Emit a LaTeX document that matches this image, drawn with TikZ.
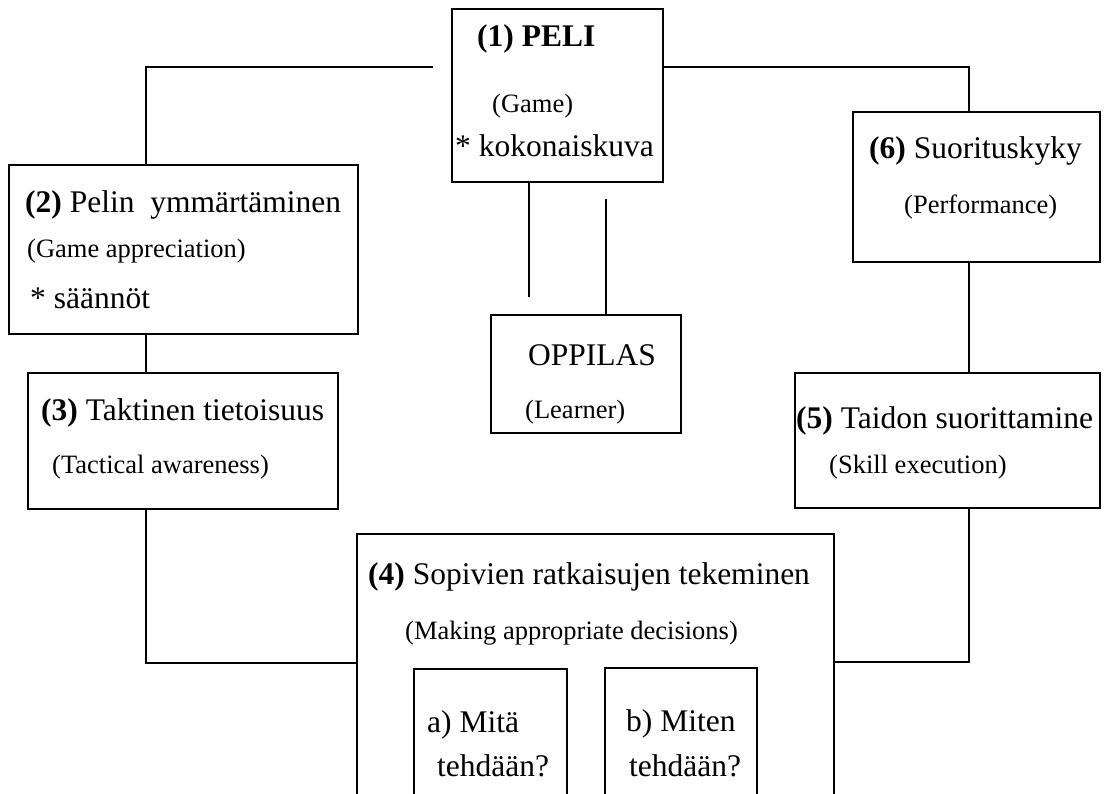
\documentclass[tikz,border=0pt]{standalone}
\usepackage{fontspec}
\setmainfont{Liberation Serif}
\begin{document}
\begin{tikzpicture}[x=1pt,y=-1pt,
  box/.style={draw, line width=1.7pt, rectangle, inner sep=0pt},
  conn/.style={line width=1.7pt},
  big/.style={anchor=base west, inner sep=0pt, font=\fontsize{31.5}{36}\selectfont},
  small/.style={anchor=base west, inner sep=0pt, font=\fontsize{26.5}{30}\selectfont}]
\clip (0,0) rectangle (1105,793);
\fill[white] (0,0) rectangle (1105,793);
% boxes
\node[box, minimum width=211pt, minimum height=173pt] (b1) at (557.5,95.5) {};
\node[box, minimum width=349pt, minimum height=169pt] (b2) at (183.5,249.5) {};
\node[box, minimum width=310pt, minimum height=136pt] (b3) at (183,441) {};
\node[box, minimum width=477pt, minimum height=286pt] (b4) at (595.5,677) {};
\node[box, minimum width=153pt, minimum height=151pt] (ba) at (490.5,744.5) {};
\node[box, minimum width=152pt, minimum height=152pt] (bb) at (681,744) {};
\node[box, minimum width=305pt, minimum height=135pt] (b5) at (947.5,440.5) {};
\node[box, minimum width=247pt, minimum height=150pt] (b6) at (976.5,187) {};
\node[box, minimum width=190pt, minimum height=118pt] (op) at (586,374) {};
% helper coordinates
\coordinate (l1) at (433,67);
\coordinate (xl) at (146,0);
\coordinate (xr) at (969,0);
\coordinate (yl) at (0,663);
\coordinate (yr) at (0,662);
\coordinate (m1e) at (529,297);
\coordinate (m2s) at (606,199);
% connectors
\draw[conn] (l1) -| (b2.north -| xl);
\draw[conn] (b2.south -| xl) -- (b3.north -| xl);
\draw[conn] (b3.south -| xl) |- (b4.west |- yl);
\draw[conn] (b1.east |- l1) -| (b6.north -| xr);
\draw[conn] (b6.south -| xr) -- (b5.north -| xr);
\draw[conn] (b5.south -| xr) |- (b4.east |- yr);
\draw[conn] (b1.south -| m1e) -- (m1e);
\draw[conn, line width=1.3pt] (m2s) -- (op.north -| m2s);
% texts
\node[big] (t1a) at (477,46) {\textbf{(1) PELI}};
\node[small] (t1b) at (492,112) {(Game)};
\node[big] (t1c) at (455,156) {* kokonaiskuva};
\node[big] (t2a) at (25,212) {\textbf{(2)} Pelin\ \ ymmärtäminen};
\node[small] (t2b) at (27,257) {(Game appreciation)};
\node[big] (t2c) at (30,308) {* säännöt};
\node[big] (t3a) at (41,420) {\textbf{(3)} Taktinen tietoisuus};
\node[small] (t3b) at (52,473) {(Tactical awareness)};
\node[big] (topa) at (528,365) {OPPILAS};
\node[small] (topb) at (525,418) {(Learner)};
\node[big] (t6a) at (869,158) {\textbf{(6)} Suorituskyky};
\node[small] (t6b) at (904,213) {(Performance)};
\node[big] (t5a) at (796,428) {\textbf{(5)} Taidon suorittamine};
\node[small] (t5b) at (829,473) {(Skill execution)};
\node[big] (t4a) at (368,584) {\textbf{(4)} Sopivien ratkaisujen tekeminen};
\node[small] (t4b) at (405,639) {(Making appropriate decisions)};
\node[big] (taa) at (427,732) {a) Mitä};
\node[big] (tab) at (437,776) {tehdään?};
\node[big] (tba) at (626,731) {b) Miten};
\node[big] (tbb) at (629,776) {tehdään?};
\end{tikzpicture}
\end{document}
